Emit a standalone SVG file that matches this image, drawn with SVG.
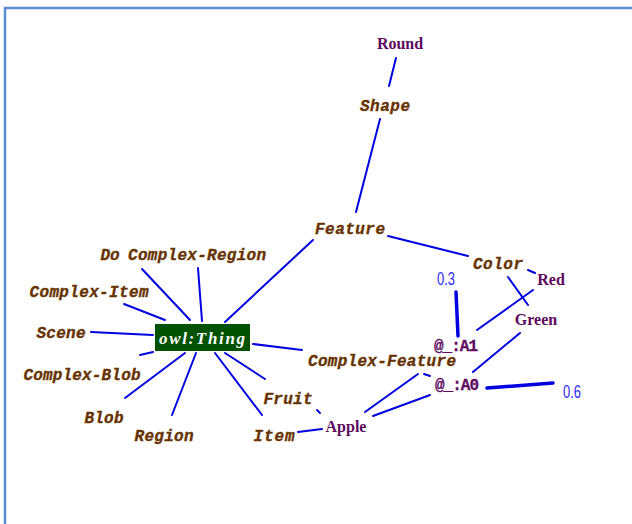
<svg xmlns="http://www.w3.org/2000/svg" width="632" height="524" viewBox="0 0 632 524">
  <style>
    .edge { stroke: #0000e0; stroke-width: 2; fill: none; stroke-linecap: round; }
    .thick { stroke-width: 3.5; }
    .cls { font-family: "Liberation Mono", "DejaVu Sans Mono", monospace; font-style: italic; font-weight: bold; font-size: 16px; fill: #663300; stroke: #663300; stroke-width: 0.35; text-anchor: middle; }
    .ind { font-family: "Liberation Serif", "DejaVu Serif", serif; font-weight: bold; font-size: 16px; fill: #5e0a5e; text-anchor: middle; }
    .anon { font-family: "Liberation Mono", "DejaVu Sans Mono", monospace; font-weight: bold; font-size: 16px; fill: #5e0a5e; stroke: #5e0a5e; stroke-width: 0.3; text-anchor: middle; }
    .num { font-family: "Liberation Sans", "DejaVu Sans", sans-serif; font-size: 18px; fill: #2a2aff; text-anchor: middle; }
    .root { font-family: "Liberation Serif", "DejaVu Serif", serif; font-style: italic; font-weight: bold; font-size: 17px; fill: #ffffff; text-anchor: middle; }
  </style>

  <rect x="0" y="0" width="632" height="524" fill="#ffffff"/>
  <!-- panel frame -->
  <path d="M5,524 V8 H632" stroke="#5a8dd0" stroke-width="2.5" fill="none"/>

  <g id="connectors">
    <line class="edge" x1="396" y1="58" x2="389" y2="86"/>
    <line class="edge" x1="380" y1="119" x2="356" y2="212"/>
    <line class="edge" x1="313" y1="240" x2="225" y2="322"/>
    <line class="edge" x1="388" y1="236" x2="468" y2="256"/>
    <line class="edge" x1="528" y1="270" x2="535" y2="273"/>
    <line class="edge" x1="508" y1="277" x2="528" y2="305"/>
    <line class="edge" x1="533" y1="290" x2="477" y2="330"/>
    <line class="edge thick" x1="456" y1="292" x2="458" y2="336"/>
    <line class="edge" x1="520" y1="333" x2="473" y2="372"/>
    <line class="edge thick" x1="487" y1="388" x2="553" y2="383"/>
    <line class="edge" x1="424" y1="374" x2="430" y2="376"/>
    <line class="edge" x1="418" y1="374" x2="365" y2="412"/>
    <line class="edge" x1="430" y1="395" x2="373" y2="416"/>
    <line class="edge" x1="317" y1="410" x2="320" y2="413"/>
    <line class="edge" x1="298" y1="432" x2="322" y2="429"/>
    <!-- spokes around owl:Thing -->
    <line class="edge" x1="198" y1="268" x2="202" y2="321"/>
    <line class="edge" x1="142" y1="269" x2="190" y2="320"/>
    <line class="edge" x1="124" y1="304" x2="165" y2="320"/>
    <line class="edge" x1="91" y1="332" x2="153" y2="335"/>
    <line class="edge" x1="140" y1="355" x2="153" y2="352"/>
    <line class="edge" x1="125" y1="398" x2="185" y2="353"/>
    <line class="edge" x1="172" y1="415" x2="196" y2="353"/>
    <line class="edge" x1="215" y1="353" x2="262" y2="415"/>
    <line class="edge" x1="225" y1="353" x2="265" y2="379"/>
    <line class="edge" x1="253" y1="344" x2="302" y2="350"/>
  </g>

  <g id="node-round"><text class="ind" x="400" y="49">Round</text></g>
  <g id="node-shape"><text class="cls" x="385" y="111" textLength="50">Shape</text></g>
  <g id="node-feature"><text class="cls" x="350" y="234" textLength="70">Feature</text></g>
  <g id="node-color"><text class="cls" x="498" y="269" textLength="50">Color</text></g>
  <g id="node-red"><text class="ind" x="551" y="285">Red</text></g>
  <g id="node-green"><text class="ind" x="536" y="325">Green</text></g>
  <g id="node-w03"><text class="num" x="446" y="285" textLength="18" lengthAdjust="spacingAndGlyphs">0.3</text></g>
  <g id="node-a1"><text class="anon" x="456" y="351" textLength="44">@_:A1</text></g>
  <g id="node-complex-feature"><text class="cls" x="382" y="366" textLength="148">Complex-Feature</text></g>
  <g id="node-a0"><text class="anon" x="457" y="390" textLength="44">@_:A0</text></g>
  <g id="node-w06"><text class="num" x="572" y="398" textLength="18" lengthAdjust="spacingAndGlyphs">0.6</text></g>
  <g id="node-apple"><text class="ind" x="346" y="432">Apple</text></g>
  <g id="node-fruit"><text class="cls" x="288" y="404" textLength="49">Fruit</text></g>
  <g id="node-item"><text class="cls" x="274" y="441" textLength="41">Item</text></g>
  <g id="node-region"><text class="cls" x="164" y="441" textLength="59">Region</text></g>
  <g id="node-blob"><text class="cls" x="104" y="423" textLength="39">Blob</text></g>
  <g id="node-complex-blob"><text class="cls" x="82" y="380" textLength="117">Complex-Blob</text></g>
  <g id="node-scene"><text class="cls" x="61" y="338" textLength="49">Scene</text></g>
  <g id="node-complex-item"><text class="cls" x="89" y="297" textLength="119">Complex-Item</text></g>
  <g id="node-do"><text class="cls" x="110" y="260">Do</text></g>
  <g id="node-complex-region"><text class="cls" x="197" y="260" textLength="138">Complex-Region</text></g>

  <g id="node-owl-thing">
    <rect x="155" y="324" width="95" height="27" fill="#005200"/>
    <text class="root" x="202" y="344" textLength="86">owl:Thing</text>
  </g>
</svg>
